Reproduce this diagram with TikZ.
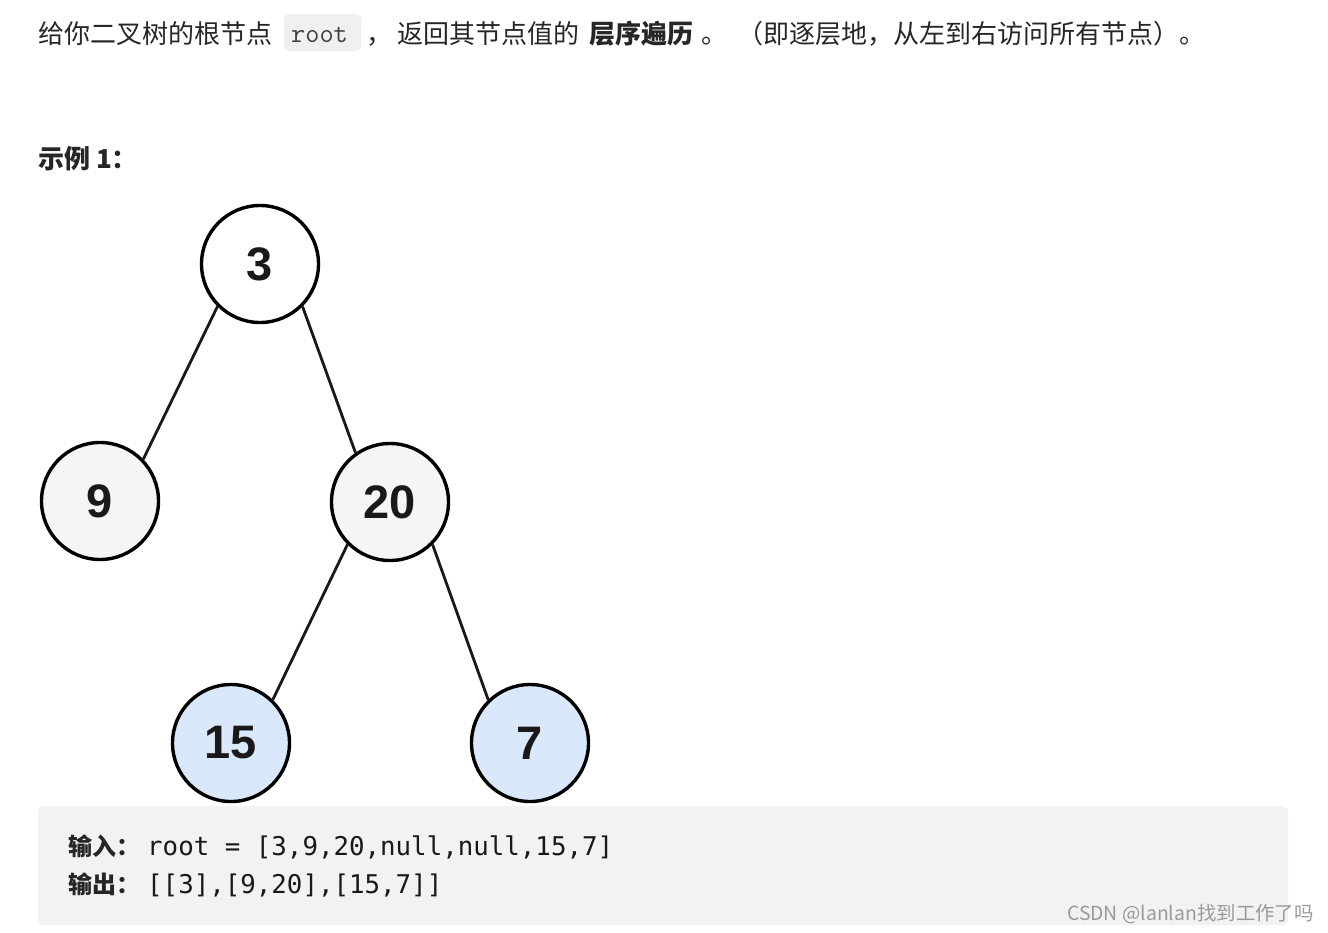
\documentclass[tikz,border=0pt]{standalone}
\usepackage{fontspec}
\setmainfont{Noto Sans CJK SC}
\newfontfamily\cjk{Noto Sans CJK SC}
\newfontfamily\digitfont{Liberation Sans}
\newfontfamily\codemono{DejaVu Sans Mono}
\definecolor{txt}{HTML}{262626}
\definecolor{graynode}{HTML}{F5F5F5}
\definecolor{bluenode}{HTML}{DAE8FC}
\definecolor{codebg}{HTML}{F2F2F4}
\definecolor{inlinebg}{HTML}{F0F0F0}
\definecolor{wm}{HTML}{9A9A9A}
\begin{document}
\begin{tikzpicture}[x=1pt,y=-1pt,
  treenode/.style={circle,draw=black,line width=3.4pt,minimum size=117pt,inner sep=0pt,
    font=\digitfont\bfseries\fontsize{47}{50}\selectfont,text=black!90},
  edge/.style={draw=black!90,line width=2.8pt},
  txtnode/.style={anchor=base west,inner sep=0pt,text=txt},
  body/.style={txtnode,font=\cjk\fontsize{26}{30}\selectfont},
]
\useasboundingbox[fill=white] (0,0) rectangle (1328,932);
% top line
\node[body] (t1) at (38,43) {给你二叉树的根节点};
\fill[inlinebg,rounded corners=5pt] (284,14) rectangle (361,51);
\node[txtnode,font=\ttfamily\fontsize{27.5}{30}\selectfont,text=black!75] (t2) at (291,42) {root};
\node[body] (t3) at (366,43) {，};
\node[body] (t4) at (397,43) {返回其节点值的};
\node[body,font=\cjk\bfseries\fontsize{26}{30}\selectfont] (t5) at (589,43) {层序遍历};
\node[body] (t6) at (701,43) {。};
\node[body] (t7) at (737,43) {（即逐层地，从左到右访问所有节点）。};
% example title
\node[body,font=\cjk\bfseries\fontsize{26}{30}\selectfont] (ex) at (38,168) {示例 1：};
% tree
\node[treenode,fill=white] (n3) at (260,264) {3};
\node[treenode,fill=graynode] (n9) at (100,501) {9};
\node[treenode,fill=graynode] (n20) at (390,502) {20};
\node[treenode,fill=bluenode] (n15) at (231,743) {15};
\node[treenode,fill=bluenode] (n7) at (530,743) {7};
\draw[edge] (n3.225) -- (n9.44);
\draw[edge] (n3.315) -- (n20.125);
\draw[edge] (n20.225) -- (n15.46);
\draw[edge] (n20.315) -- (n7.134);
% code box
\fill[codebg,rounded corners=6pt] (38,806) rectangle (1288,925);
\node[txtnode,font=\cjk\bfseries\fontsize{24}{28}\selectfont] (inlab) at (68,855) {输入：};
\node[txtnode,font=\codemono\fontsize{25.8}{30}\selectfont,text=black!90] (inval) at (147,855) {root = [3,9,20,null,null,15,7]};
\node[txtnode,font=\cjk\bfseries\fontsize{24}{28}\selectfont] (outlab) at (68,893) {输出：};
\node[txtnode,font=\codemono\fontsize{25.8}{30}\selectfont,text=black!90] (outval) at (147,893) {[[3],[9,20],[15,7]]};
% watermark
\node[txtnode,font=\cjk\fontsize{19.4}{22}\selectfont,text=wm] (wmk) at (1067,920) {CSDN @lanlan找到工作了吗};
\end{tikzpicture}
\end{document}
